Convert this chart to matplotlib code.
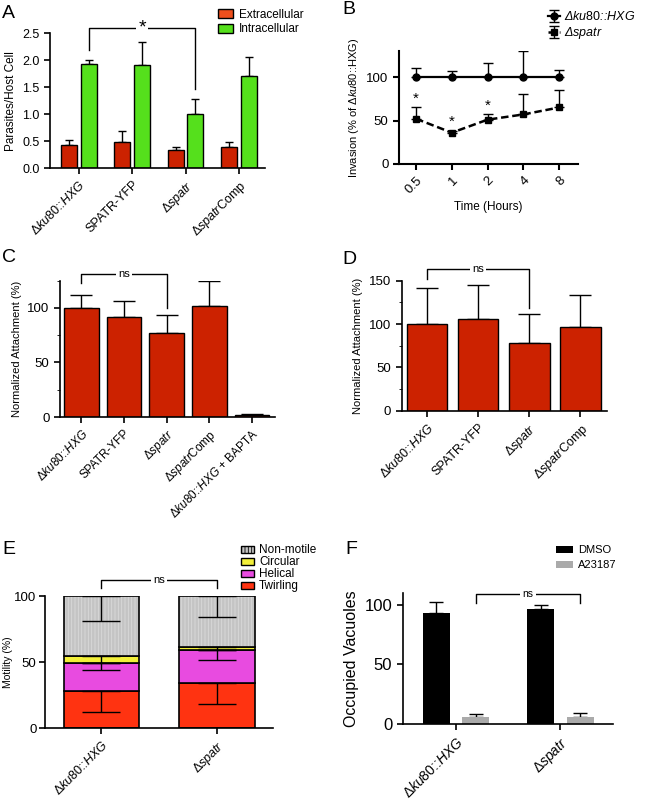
import matplotlib.pyplot as plt
import numpy as np

plt.rcParams['font.family'] = ['Liberation Sans', 'DejaVu Sans']
plt.rcParams['mathtext.fontset'] = 'custom'
plt.rcParams['mathtext.rm'] = 'Liberation Sans'
plt.rcParams['mathtext.it'] = 'Liberation Sans:italic'
plt.rcParams['hatch.linewidth'] = 0.6

# strain labels
KU80 = r'Δ$\mathit{ku80}$::$\mathit{HXG}$'
SPATR = r'Δ$\mathit{spatr}$'
COMP = r'Δ$\mathit{spatr}$Comp'

# panel A
a_strains = [KU80, 'SPATR-YFP', SPATR, COMP]
a_extra = [0.43, 0.48, 0.33, 0.40]
a_extra_err = [0.10, 0.21, 0.06, 0.09]
a_intra = [1.94, 1.91, 1.01, 1.71]
a_intra_err = [0.07, 0.42, 0.27, 0.36]

# panel B
b_times = [0.5, 1, 2, 4, 8]
b_ku80 = [100, 100, 100, 100, 100]
b_ku80_err = [11, 7, 16, 30, 8]
b_spatr = [52, 36, 51, 57, 65]
b_spatr_err = [13, 2, 6, 23, 20]
b_star_idx = [0, 1, 2]

# panel C
c_strains = [KU80, 'SPATR-YFP', SPATR, COMP, KU80 + ' + BAPTA']
c_vals = [100, 92, 77, 102, 2]
c_err = [12, 14, 16.5, 23, 1]

# panel D
d_strains = [KU80, 'SPATR-YFP', SPATR, COMP]
d_vals = [100, 106, 78, 96]
d_err = [41, 39, 33, 37]

# panel E
e_strains = [KU80, SPATR]
e_twirling = [28.5, 34.5]
e_twirling_err = [16.5, 16.5]
e_helical = [21.0, 24.7]
e_helical_err = [5.3, 7.6]
e_circular = [5.0, 2.5]
e_circular_err = [4.9, 2.4]
e_nonmotile = [45.5, 38.3]
e_nonmotile_err = [19.0, 15.6]

# panel F
f_strains = [KU80, SPATR]
f_dmso = [93, 96.4]
f_dmso_err = [9, 3]
f_a23187 = [5.6, 5.6]
f_a23187_err = [2.8, 3.9]

RED = '#cc2200'
GREEN = '#55e01c'


def style(ax, lw=1.2):
    for s in ['top', 'right']:
        ax.spines[s].set_visible(False)
    for s in ['left', 'bottom']:
        ax.spines[s].set_linewidth(lw)
    ax.tick_params(width=lw, length=4, direction='out')


def bracket(ax, x1, x2, y, y1, y2, text, fs=8):
    ax.plot([x1, x1, x2, x2], [y1, y, y, y2], color='k', lw=1, clip_on=False)
    ax.text((x1 + x2) / 2, y, text, ha='center', va='center', fontsize=fs,
            bbox=dict(facecolor='white', edgecolor='none', pad=1.5), clip_on=False)


def up_err(ax, x, y, err, cap, lw=1):
    ax.errorbar(x, y, yerr=[np.zeros(len(err)), err], fmt='none', ecolor='k',
                elinewidth=lw, capsize=cap, capthick=lw, zorder=1)


def rot_labels(ax, labels, fs):
    ax.set_xticklabels(labels, rotation=45, ha='right', rotation_mode='anchor', fontsize=fs)


fig = plt.figure(figsize=(6.5, 8.01), dpi=100)

# ---- A ----
ax = fig.add_axes([0.0769, 0.7899, 0.3308, 0.1685])
x = np.arange(len(a_strains))
off, w = 0.185, 0.30
up_err(ax, x - off, a_extra, a_extra_err, 2.8)
up_err(ax, x + off, a_intra, a_intra_err, 2.8)
ax.bar(x - off, a_extra, w, color=RED, edgecolor='k', lw=1, zorder=2)
ax.bar(x + off, a_intra, w, color=GREEN, edgecolor='k', lw=1, zorder=2)
ax.set_xlim(-0.54, 3.49)
ax.set_ylim(0, 2.5)
ax.set_yticks([0, 0.5, 1.0, 1.5, 2.0, 2.5])
ax.set_yticklabels(['0.0', '0.5', '1.0', '1.5', '2.0', '2.5'], fontsize=9)
ax.set_xticks(x)
rot_labels(ax, a_strains, 9)
ax.set_ylabel('Parasites/Host Cell', fontsize=8.5)
style(ax)
bracket(ax, x[0] + off, x[2] + off, 2.59, 2.19, 1.46, '*', fs=14)
h1 = plt.Rectangle((0, 0), 1, 1, fc='#ee4f1c', ec='k', lw=1)
h2 = plt.Rectangle((0, 0), 1, 1, fc=GREEN, ec='k', lw=1)
ax.legend([h1, h2], ['Extracellular', 'Intracellular'], loc='upper left',
          bbox_to_anchor=(0.78, 1.18), frameon=False, fontsize=8.5,
          handlelength=1.3, handleheight=0.8, handletextpad=0.5, labelspacing=0.2,
          borderpad=0, borderaxespad=0)

# ---- B ----
ax = fig.add_axes([0.6138, 0.7953, 0.2754, 0.141])
ax.set_xscale('log', base=2)
ax.errorbar(b_times, b_ku80, yerr=[np.zeros(5), b_ku80_err], color='k', lw=1.6,
            marker='o', ms=5, capsize=3.3, elinewidth=1, capthick=1,
            label=r'Δ$\mathit{ku80}$::$\mathit{HXG}$')
ax.errorbar(b_times, b_spatr, yerr=[np.zeros(5), b_spatr_err], color='k', lw=1.8,
            ls=(0, (3, 1.5)), marker='s', ms=5, capsize=3.3, elinewidth=1, capthick=1,
            label=r'Δ$\mathit{spatr}$')
for i in b_star_idx:
    ax.text(b_times[i], b_spatr[i] + b_spatr_err[i] + 2, '*', ha='center', va='bottom', fontsize=11)
ax.set_xlim(2 ** -1.48, 2 ** 3.53)
ax.set_ylim(0, 130)
ax.set_xticks(b_times)
ax.minorticks_off()
rot_labels(ax, ['0.5', '1', '2', '4', '8'], 9.5)
ax.set_yticks([0, 50, 100])
ax.tick_params(axis='y', labelsize=9.5)
ax.set_xlabel('Time (Hours)', fontsize=8.5)
ax.set_ylabel(r'Invasion (% of Δ$\mathit{ku80}$::HXG)', fontsize=8)
style(ax, 1.5)
leg = ax.legend(loc='upper left', bbox_to_anchor=(0.83, 1.36), frameon=False, fontsize=9,
                handlelength=1.0, handletextpad=0.3, labelspacing=0.15, borderpad=0,
                borderaxespad=0)
for t in leg.get_texts():
    t.set_style('italic')

# ---- C ----
ax = fig.add_axes([0.0923, 0.4794, 0.3308, 0.1702])
x = np.arange(len(c_strains))
up_err(ax, x, c_vals, c_err, 7.8)
ax.bar(x, c_vals, 0.81, color=RED, edgecolor='k', lw=1, zorder=2)
ax.set_xlim(-0.5, 4.54)
ax.set_ylim(0, 125)
ax.set_yticks([0, 50, 100])
ax.set_yticks([25, 75, 125], minor=True)
ax.tick_params(axis='y', labelsize=9.5)
ax.set_xticks(x)
rot_labels(ax, c_strains, 8.5)
ax.set_ylabel('Normalized Attachment (%)', fontsize=8)
style(ax)
ax.tick_params(which='minor', length=2.5)
bracket(ax, 0, 2, 131.5, 123, 100, 'ns', fs=8)

# ---- D ----
ax = fig.add_axes([0.618, 0.4873, 0.3158, 0.1623])
x = np.arange(len(d_strains))
up_err(ax, x, d_vals, d_err, 8)
ax.bar(x, d_vals, 0.79, color=RED, edgecolor='k', lw=1, zorder=2)
ax.set_xlim(-0.5, 3.52)
ax.set_ylim(0, 150)
ax.set_yticks([0, 50, 100, 150])
ax.set_yticks([25, 75, 125], minor=True)
ax.tick_params(axis='y', labelsize=9.5)
ax.set_xticks(x)
rot_labels(ax, d_strains, 9)
ax.set_ylabel('Normalized Attachment (%)', fontsize=8)
style(ax)
ax.tick_params(which='minor', length=2.5)
bracket(ax, 0, 2, 163, 151.5, 118, 'ns', fs=8)

# ---- E ----
ax = fig.add_axes([0.0692, 0.0908, 0.3513, 0.1651])
x = np.arange(len(e_strains))
w = 0.657
segs = [(e_twirling, e_twirling_err, '#ff3311', 'Twirling'),
        (e_helical, e_helical_err, '#e84be0', 'Helical'),
        (e_circular, e_circular_err, '#f2ef3a', 'Circular'),
        (e_nonmotile, e_nonmotile_err, '#c4c4c4', 'Non-motile')]
bottom = np.zeros(2)
handles = []
for vals, err, col, name in segs:
    vals = np.array(vals)
    if name == 'Non-motile':
        ax.bar(x, vals, w, bottom=bottom, color=col, edgecolor='#dadada', lw=0,
               hatch='|||||', zorder=2)
        ax.bar(x, vals, w, bottom=bottom, fill=False, edgecolor='k', lw=1.2, zorder=3)
        hb = plt.Rectangle((0, 0), 1, 1, fc=col, ec='k', lw=1, hatch='|||||')
    else:
        ax.bar(x, vals, w, bottom=bottom, color=col, edgecolor='k', lw=1.2, zorder=2)
        hb = plt.Rectangle((0, 0), 1, 1, fc=col, ec='k', lw=1)
    top = bottom + vals
    ax.errorbar(x, top, yerr=[err, np.zeros(2)], fmt='none', ecolor='k', elinewidth=1,
                capsize=14, capthick=1, zorder=4)
    handles.append((hb, name))
    bottom = top
ax.set_xlim(-0.49, 1.49)
ax.set_ylim(0, 100)
ax.set_yticks([0, 50, 100])
ax.tick_params(axis='y', labelsize=9.5, pad=2)
ax.set_xticks(x)
rot_labels(ax, e_strains, 9)
ax.set_ylabel('Motility (%)', fontsize=7.5, labelpad=1)
style(ax)
ax.tick_params(axis='y', pad=2)
bracket(ax, 0, 1, 112, 105.8, 105.8, 'ns', fs=8)
handles = handles[::-1]
ax.legend([h for h, n in handles], [n for h, n in handles], loc='upper left',
          bbox_to_anchor=(0.86, 1.39), frameon=False, fontsize=8.5, handlelength=1.1,
          handleheight=0.6, handletextpad=0.4, labelspacing=0.0, borderpad=0,
          borderaxespad=0)

# ---- F ----
ax = fig.add_axes([0.6195, 0.0961, 0.3231, 0.1639])
x = np.arange(len(f_strains))
off, w = 0.189, 0.26
up_err(ax, x - off, f_dmso, f_dmso_err, 4.7)
up_err(ax, x + off, f_a23187, f_a23187_err, 4.7)
ax.bar(x - off, f_dmso, w, color='k', lw=0, zorder=2, label='DMSO')
ax.bar(x + off, f_a23187, w, color='#aaaaaa', lw=0, zorder=2, label='A23187')
ax.set_xlim(-0.51, 1.5)
ax.set_ylim(0, 110)
ax.set_yticks([0, 50, 100])
ax.tick_params(axis='y', labelsize=12)
ax.set_xticks(x)
rot_labels(ax, f_strains, 10)
ax.set_ylabel('Occupied Vacuoles', fontsize=11.5)
style(ax)
bracket(ax, off, 1 + off, 109.2, 101.4, 101.4, 'ns', fs=7.5)
ax.legend(loc='upper left', bbox_to_anchor=(0.73, 1.36), frameon=False, fontsize=8,
          handlelength=1.5, handleheight=0.6, handletextpad=0.5, labelspacing=0.45,
          borderpad=0, borderaxespad=0)

# panel letters
for lab, px, py in [('A', 2, 18), ('B', 342, 14), ('C', 2, 262), ('D', 342, 264),
                    ('E', 2, 554), ('F', 345, 554)]:
    fig.text(px / 650, 1 - py / 801, lab, fontsize=14, ha='left', va='baseline')

fig.savefig('out.png', dpi=100)
